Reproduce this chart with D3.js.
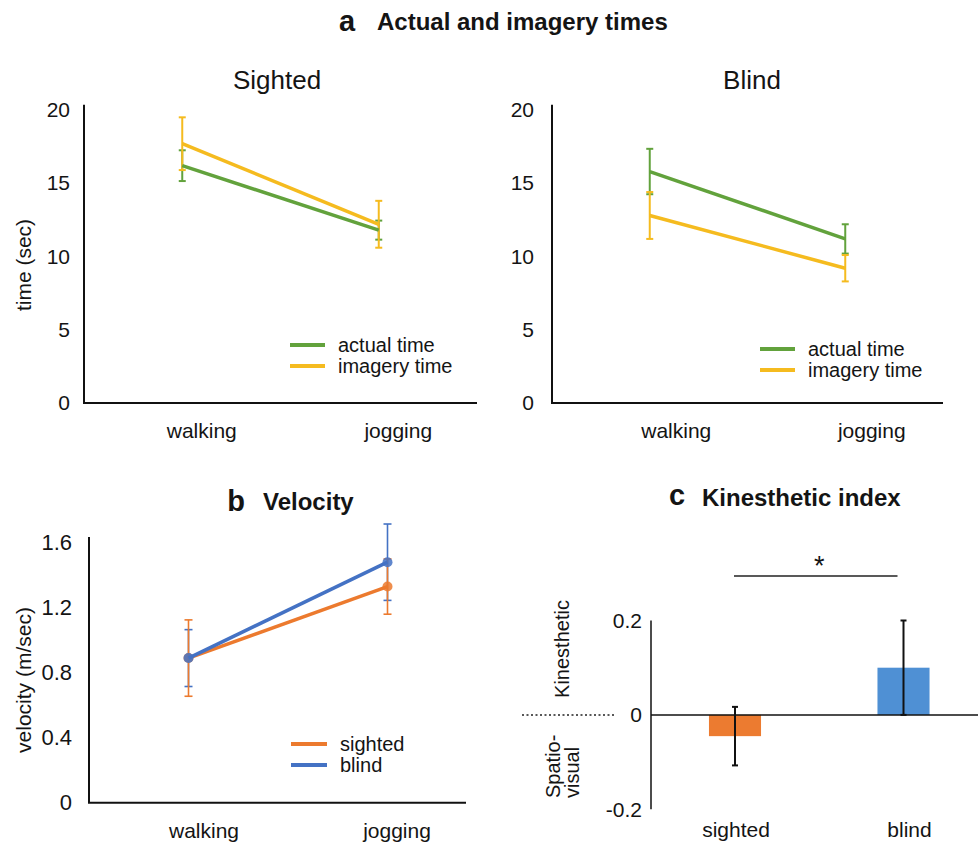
<!DOCTYPE html>
<html><head><meta charset="utf-8">
<script src="https://cdn.jsdelivr.net/npm/d3@7"></script>
<style>
body{margin:0;background:#fff}
svg{display:block}
text{font-family:"Liberation Sans",Arial,Helvetica,sans-serif;fill:#141414}
</style>
</head><body>
<svg id="chart" width="978" height="843"></svg>
<script>
// ---------- data ----------
const activities = ["walking", "jogging"];
const timeTicks = [0, 5, 10, 15, 20];
const timeSeriesNames = ["actual time", "imagery time"];
const sightedActual = [16.2, 11.8];
const sightedActualErr = [1.05, 0.65];
const sightedImagery = [17.7, 12.2];
const sightedImageryErr = [1.8, 1.6];
const blindActual = [15.8, 11.2];
const blindActualErr = [1.55, 1.0];
const blindImagery = [12.8, 9.2];
const blindImageryErr = [1.6, 0.9];

const velocityTicks = [0, 0.4, 0.8, 1.2, 1.6];
const velocityNames = ["sighted", "blind"];
const velocitySighted = [0.89, 1.33];
const velocitySightedErr = [0.235, 0.17];
const velocityBlind = [0.89, 1.48];
const velocityBlindErr = [0.175, 0.235];

const groups = ["sighted", "blind"];
const kinestheticIndex = [-0.045, 0.1];
const kinestheticErr = [0.062, 0.1];
const kinTicks = [-0.2, 0, 0.2];

// ---------- styles ----------
const GREEN = "#62a23c", YELLOW = "#f5bb1f", ORANGE = "#ec7a2e", BLUE = "#4472c4";
const BAR_ORANGE = "#ec7b30", BAR_BLUE = "#4f90d4";
const FS = 21;
const fmt1 = d => d === 0 ? "0" : d3.format(".1f")(d).replace("\u2212", "-");

const svg = d3.select("#chart");

function errorBar(g, x, y1, y2, color, cap, w) {
  g.append("line").attr("x1", x).attr("x2", x).attr("y1", y1).attr("y2", y2)
    .attr("stroke", color).attr("stroke-width", w);
  [y1, y2].forEach(yy => g.append("line").attr("x1", x - cap).attr("x2", x + cap)
    .attr("y1", yy).attr("y2", yy).attr("stroke", color).attr("stroke-width", w));
}

// ---------- top title ----------
svg.append("text").attr("x", 347).attr("y", 31).attr("text-anchor", "middle")
  .attr("font-size", 29).attr("font-weight", "bold").text("a");
svg.append("text").attr("x", 377).attr("y", 30)
  .attr("font-size", 24).attr("font-weight", "bold").text("Actual and imagery times");

// ---------- panel a ----------
function timePanel(o) {
  const g = svg.append("g");
  const x = d3.scalePoint().domain(activities).range([o.x0, o.x1]).padding(0.5);
  const y = d3.scaleLinear().domain([0, 20]).range([403, 110]);

  g.append("text").attr("x", o.titleX).attr("y", 89).attr("text-anchor", "middle")
    .attr("font-size", 26).text(o.title);

  const ya = g.append("g").attr("transform", `translate(${o.x0},0)`)
    .call(d3.axisLeft(y).tickValues(timeTicks).tickSize(0).tickPadding(o.tickPad));
  ya.select(".domain").remove();
  ya.selectAll("text").attr("font-size", FS).attr("font-family", null).attr("fill", "#141414");
  g.append("line").attr("x1", o.x0).attr("x2", o.x0).attr("y1", y(20.35)).attr("y2", y(0))
    .attr("stroke", "#111").attr("stroke-width", 2);
  g.append("line").attr("x1", o.x0 - 1).attr("x2", o.x1).attr("y1", y(0)).attr("y2", y(0))
    .attr("stroke", "#111").attr("stroke-width", 2);

  const xa = g.append("g").attr("transform", `translate(0,${y(0)})`)
    .call(d3.axisBottom(x).tickSize(0).tickPadding(20));
  xa.select(".domain").remove();
  xa.selectAll("text").attr("font-size", FS).attr("font-family", null).attr("fill", "#141414")
    .attr("dx", o.labelDx);

  o.series.forEach(s => {
    activities.forEach((a, i) => {
      errorBar(g, x(a), y(s.vals[i] + s.errs[i]), y(s.vals[i] - s.errs[i]), s.color, 3.5, 2);
    });
  });
  const line = d3.line().x((d, i) => x(activities[i])).y(d => y(d));
  o.series.forEach(s => {
    g.append("path").attr("d", line(s.vals)).attr("fill", "none")
      .attr("stroke", s.color).attr("stroke-width", 3.5);
  });
  o.series.forEach((s, i) => {
    const ly = o.legY + i * 21;
    g.append("line").attr("x1", o.legX).attr("x2", o.legX + 35).attr("y1", ly).attr("y2", ly)
      .attr("stroke", s.color).attr("stroke-width", 4);
    g.append("text").attr("x", o.legX + 48).attr("y", ly + 6.5).attr("font-size", 20)
      .text(timeSeriesNames[i]);
  });
  if (o.yLabel) {
    g.append("text").attr("transform", `translate(31,265) rotate(-90)`)
      .attr("text-anchor", "middle").attr("font-size", FS).text(o.yLabel);
  }
}

timePanel({
  x0: 84, x1: 477, title: "Sighted", titleX: 277, tickPad: 14, labelDx: 19,
  series: [
    { vals: sightedActual, errs: sightedActualErr, color: GREEN },
    { vals: sightedImagery, errs: sightedImageryErr, color: YELLOW }
  ],
  legX: 290, legY: 345, yLabel: "time (sec)"
});
timePanel({
  x0: 552, x1: 943, title: "Blind", titleX: 752, tickPad: 18, labelDx: 26,
  series: [
    { vals: blindActual, errs: blindActualErr, color: GREEN },
    { vals: blindImagery, errs: blindImageryErr, color: YELLOW }
  ],
  legX: 760, legY: 349
});

// ---------- panel b ----------
(function () {
  const g = svg.append("g");
  const x = d3.scalePoint().domain(activities).range([89, 487]).padding(0.5);
  const y = d3.scaleLinear().domain([0, 1.6]).range([802.7, 542.7]);

  g.append("text").attr("x", 236).attr("y", 511).attr("text-anchor", "middle")
    .attr("font-size", 29).attr("font-weight", "bold").text("b");
  g.append("text").attr("x", 263).attr("y", 510)
    .attr("font-size", 24).attr("font-weight", "bold").text("Velocity");

  const ya = g.append("g").attr("transform", "translate(89,0)")
    .call(d3.axisLeft(y).tickValues(velocityTicks).tickSize(0).tickPadding(17).tickFormat(fmt1));
  ya.select(".domain").remove();
  ya.selectAll("text").attr("font-size", 22).attr("font-family", null).attr("fill", "#141414");
  g.append("line").attr("x1", 89).attr("x2", 89).attr("y1", y(1.635)).attr("y2", y(0))
    .attr("stroke", "#111").attr("stroke-width", 2);
  g.append("line").attr("x1", 88).attr("x2", 466).attr("y1", y(0)).attr("y2", y(0))
    .attr("stroke", "#111").attr("stroke-width", 2);

  const xa = g.append("g").attr("transform", `translate(0,${y(0)})`)
    .call(d3.axisBottom(x).tickSize(0).tickPadding(20));
  xa.select(".domain").remove();
  xa.selectAll("text").attr("font-size", FS).attr("font-family", null).attr("fill", "#141414")
    .attr("dx", (d, i) => i === 0 ? 15 : 9);

  const series = [
    { vals: velocityBlind, errs: velocityBlindErr, color: BLUE },
    { vals: velocitySighted, errs: velocitySightedErr, color: ORANGE }
  ];
  series.forEach(s => activities.forEach((a, i) =>
    errorBar(g, x(a), y(s.vals[i] + s.errs[i]), y(s.vals[i] - s.errs[i]), s.color, 4, 1.6)));

  const line = d3.line().x((d, i) => x(activities[i])).y(d => y(d));
  [series[1], series[0]].forEach(s => {
    g.append("path").attr("d", line(s.vals)).attr("fill", "none")
      .attr("stroke", s.color).attr("stroke-width", 3.5);
    g.selectAll(null).data(s.vals).enter().append("circle")
      .attr("cx", (d, i) => x(activities[i])).attr("cy", d => y(d)).attr("r", 5)
      .attr("fill", s.color).attr("fill-opacity", 0.85);
  });

  [ORANGE, BLUE].forEach((c, i) => {
    const ly = 744 + i * 21;
    g.append("line").attr("x1", 291).attr("x2", 327).attr("y1", ly).attr("y2", ly)
      .attr("stroke", c).attr("stroke-width", 4);
    g.append("text").attr("x", 340).attr("y", ly + 6.5).attr("font-size", 20).text(velocityNames[i]);
  });

  g.append("text").attr("transform", "translate(31,680) rotate(-90)")
    .attr("text-anchor", "middle").attr("font-size", FS).text("velocity (m/sec)");
})();

// ---------- panel c ----------
(function () {
  const g = svg.append("g");
  const x = d3.scaleBand().domain(groups).range([651, 987.5]).paddingInner(0.691).paddingOuter(0.344);
  const y = d3.scaleLinear().domain([-0.2, 0.2]).range([809.3, 620.5]);

  g.append("text").attr("x", 677).attr("y", 505).attr("text-anchor", "middle")
    .attr("font-size", 29).attr("font-weight", "bold").text("c");
  g.append("text").attr("x", 702).attr("y", 506)
    .attr("font-size", 24).attr("font-weight", "bold").text("Kinesthetic index");

  const ya = g.append("g").attr("transform", "translate(651,0)")
    .call(d3.axisLeft(y).tickValues(kinTicks).tickSize(0).tickPadding(9).tickFormat(fmt1));
  ya.select(".domain").remove();
  ya.selectAll("text").attr("font-size", FS).attr("font-family", null).attr("fill", "#141414");
  g.append("line").attr("x1", 651).attr("x2", 651).attr("y1", y(0.2)).attr("y2", y(-0.2))
    .attr("stroke", "#111").attr("stroke-width", 1.5);

  g.selectAll(null).data(groups).enter().append("rect")
    .attr("x", d => x(d)).attr("width", x.bandwidth())
    .attr("y", (d, i) => y(Math.max(0, kinestheticIndex[i])))
    .attr("height", (d, i) => Math.abs(y(kinestheticIndex[i]) - y(0)))
    .attr("fill", (d, i) => i === 0 ? BAR_ORANGE : BAR_BLUE);

  g.append("line").attr("x1", 651).attr("x2", 978).attr("y1", y(0)).attr("y2", y(0))
    .attr("stroke", "#111").attr("stroke-width", 1.5);

  groups.forEach((gr, i) => {
    const cx = x(gr) + x.bandwidth() / 2;
    errorBar(g, cx, y(kinestheticIndex[i] + kinestheticErr[i]), y(kinestheticIndex[i] - kinestheticErr[i]), "#111", 3, 2);
  });

  const xa = g.append("g").attr("transform", `translate(0,${y(-0.2)})`)
    .call(d3.axisBottom(x).tickSize(0).tickPadding(13));
  xa.select(".domain").remove();
  xa.selectAll("text").attr("font-size", FS).attr("font-family", null).attr("fill", "#141414")
    .attr("dx", (d, i) => i === 0 ? 1 : 6);

  const s0 = x(groups[0]) + x.bandwidth() / 2, s1 = x(groups[1]) + x.bandwidth() / 2;
  g.append("line").attr("x1", s0 - 1).attr("x2", s1 - 6).attr("y1", 576).attr("y2", 576)
    .attr("stroke", "#222").attr("stroke-width", 1.5);
  g.append("text").attr("x", (s0 + s1) / 2).attr("y", 575).attr("text-anchor", "middle")
    .attr("font-size", 27).text("*");

  g.append("line").attr("x1", 522).attr("x2", 615).attr("y1", y(0)).attr("y2", y(0))
    .attr("stroke", "#222").attr("stroke-width", 1.5).attr("stroke-dasharray", "2,2.5");

  g.append("text").attr("transform", "translate(569,649) rotate(-90)")
    .attr("text-anchor", "middle").attr("font-size", 20).text("Kinesthetic");
  g.append("text").attr("transform", "translate(560,798) rotate(-90)")
    .attr("text-anchor", "start").attr("font-size", 20).text("Spatio-");
  g.append("text").attr("transform", "translate(579,798) rotate(-90)")
    .attr("text-anchor", "start").attr("font-size", 20).text("visual");
})();
</script>
</body></html>
